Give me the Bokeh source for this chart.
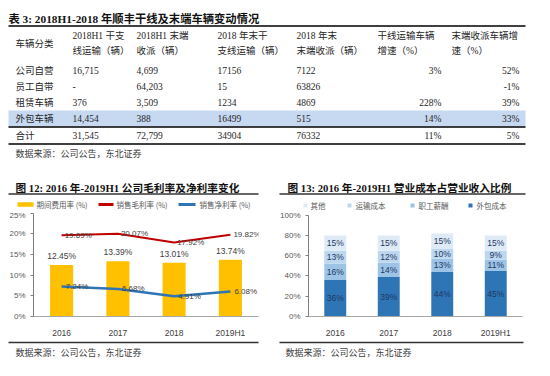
from bokeh.plotting import figure
from bokeh.models import (Range1d, FactorRange, FixedTicker, PrintfTickFormatter,
                          ColumnDataSource)
from bokeh.layouts import column, row
from bokeh.embed import file_html
from bokeh.resources import INLINE
from bokeh.core.properties import value

# ---------------- data ----------------
table_title = "表 3: 2018H1-2018 年顺丰干线及末端车辆变动情况"
header_line1 = ["车辆分类", "2018H1 干支", "2018H1 末端", "2018 年末干", "2018 年末", "干线运输车辆", "末端收派车辆增"]
header_line2 = ["", "线运输（辆）", "收派（辆）", "支线运输（辆）", "末端收派（辆）", "增速（%）", "速（%）"]
vehicle_types = ["公司自营", "员工自带", "租赁车辆", "外包车辆", "合计"]
h1_trunk = ["16,715", "-", "376", "14,454", "31,545"]
h1_terminal = ["4,699", "64,203", "3,509", "388", "72,799"]
ye_trunk = ["17156", "15", "1234", "16499", "34904"]
ye_terminal = ["7122", "63826", "4869", "515", "76332"]
trunk_growth = ["3%", "", "228%", "14%", "11%"]
terminal_growth = ["52%", "-1%", "39%", "33%", "5%"]
source_note = "数据来源：公司公告，东北证券"

title12 = "图 12: 2016 年-2019H1 公司毛利率及净利率变化"
years = ["2016", "2017", "2018", "2019H1"]
expense_ratio = [12.45, 13.39, 13.01, 13.74]
gross_margin = [19.69, 20.07, 17.92, 19.82]
net_margin = [7.24, 6.68, 4.91, 6.08]
legend12 = ["期间费用率 (%)", "销售毛利率 (%)", "销售净利率 (%)"]

title13 = "图 13: 2016 年-2019H1 营业成本占营业收入比例"
outsourcing = [36, 39, 44, 45]
staff = [16, 14, 13, 11]
transport = [13, 12, 10, 9]
other = [15, 15, 15, 15]
legend13 = ["其他", "运输成本", "职工薪酬", "外包成本"]

# ---------------- styles ----------------
SERIF = value("Liberation Serif, Noto Sans CJK SC")
SANS = value("Liberation Sans, Noto Sans CJK SC")
CJK = value("Noto Sans CJK SC")
TXT = "#262626"
C_BAR, C_GROSS, C_NET = "#FFC000", "#C00000", "#2E75B6"
C_OUT, C_STAFF, C_TRANS, C_OTHER = "#2E75B6", "#9DC3E6", "#BDD7EE", "#DEEBF7"

TOP_H = 210

# ---------------- top strip: table + chart titles + legends ----------------
top = figure(width=550, height=TOP_H, x_range=Range1d(0, 550), y_range=Range1d(TOP_H, 0),
             x_axis_location=None, y_axis_location=None, toolbar_location=None,
             output_backend="svg", min_border=0, outline_line_color=None)
top.grid.visible = False

top.text(x=[8], y=[18], text=[table_title], text_font=SERIF, text_font_style="bold",
         text_font_size="11.3px", text_baseline="middle", text_color="#111111")
top.quad(left=[8], right=[525], top=[110], bottom=[126], fill_color="#C6D9F1", line_color=None)
top.segment(x0=[8, 8, 8], y0=[25.5, 126.5, 143.5], x1=[525, 525, 525], y1=[25.5, 126.5, 143.5],
            line_color="black", line_width=1.4)

col_left = [15, 72, 136, 217, 296, 377, 451]
top.text(x=[col_left[0]], y=[43], text=[header_line1[0]], text_font=SERIF,
         text_font_size="9.5px", text_baseline="middle", text_color=TXT)
top.text(x=col_left[1:], y=[35] * 6, text=header_line1[1:], text_font=SERIF,
         text_font_size="9.5px", text_baseline="middle", text_color=TXT)
top.text(x=col_left[1:], y=[50] * 6, text=header_line2[1:], text_font=SERIF,
         text_font_size="9.5px", text_baseline="middle", text_color=TXT)

row_y = [70, 86, 102, 118, 135]
left_cols = [vehicle_types, h1_trunk, h1_terminal, ye_trunk, ye_terminal]
for ci, col in enumerate(left_cols):
    top.text(x=[col_left[ci]] * len(col), y=row_y, text=col, text_font=SERIF,
             text_font_size="9.5px", text_baseline="middle", text_color=TXT)
for xr, col in zip([441, 519], [trunk_growth, terminal_growth]):
    top.text(x=[xr] * len(col), y=row_y, text=col, text_font=SERIF, text_align="right",
             text_font_size="9.5px", text_baseline="middle", text_color=TXT)
top.text(x=[15], y=[153], text=[source_note], text_font=CJK, text_font_size="9px",
         text_baseline="middle", text_color="#404040")

top.text(x=[15, 287], y=[187, 187], text=[title12, title13], text_font=SERIF,
         text_font_style="bold", text_font_size="10.7px", text_baseline="middle",
         text_color="#111111")
top.segment(x0=[8, 279], y0=[193.5, 193.5], x1=[258, 525], y1=[193.5, 193.5],
            line_color="#333333", line_width=1.3)

# legend of chart 12 (drawn in the strip above the plot)
top.quad(left=[17], right=[33], top=[201.8], bottom=[206.2], fill_color=C_BAR, line_color=None)
top.segment(x0=[98, 178], y0=[204, 204], x1=[113, 195], y1=[204, 204],
            line_color=[C_GROSS, C_NET], line_width=3)
top.text(x=[36, 116, 199], y=[204, 204, 204], text=legend12, text_font=CJK,
         text_font_size="7.5px", text_baseline="middle", text_color="#595959")
# legend of chart 13
top.quad(left=[303, 347, 410, 468], right=[307, 351, 414, 472], top=[203] * 4, bottom=[207] * 4,
         fill_color=[C_OTHER, C_TRANS, C_STAFF, C_OUT], line_color=None)
top.text(x=[310, 355, 418, 476], y=[205] * 4, text=legend13, text_font=CJK,
         text_font_size="7.5px", text_baseline="middle", text_color="#595959")


def style_axes(p, ymax):
    p.grid.visible = False
    p.outline_line_color = None
    p.yaxis.bounds = (0, ymax)
    p.yaxis.axis_line_color = "#808080"
    p.yaxis.major_tick_line_color = "#808080"
    p.yaxis.major_tick_out = 3
    p.yaxis.major_tick_in = 0
    p.yaxis.minor_tick_line_color = None
    p.yaxis.major_label_standoff = 5
    p.yaxis.major_label_text_font = "Liberation Sans"
    p.yaxis.major_label_text_font_size = "8px"
    p.yaxis.major_label_text_color = "#595959"
    p.yaxis.formatter = PrintfTickFormatter(format="%d%%")
    p.xaxis.axis_line_color = "#A6A6A6"
    p.xaxis.major_tick_line_color = None
    p.xaxis.major_label_standoff = 5
    p.xaxis.major_label_text_font = "Liberation Sans"
    p.xaxis.major_label_text_font_size = "8.5px"
    p.xaxis.major_label_text_color = "#404040"


CH_H = 340 - TOP_H

# ---------------- chart 12 ----------------
p12 = figure(width=275, height=CH_H, x_range=FactorRange(*years), y_range=Range1d(0, 25.68),
             toolbar_location=None, output_backend="svg",
             min_border_left=33, min_border_right=17, min_border_top=0, min_border_bottom=16)
style_axes(p12, 25)
p12.yaxis.ticker = FixedTicker(ticks=[0, 5, 10, 15, 20, 25])

p12.vbar(x=years, top=expense_ratio, width=0.41, fill_color=C_BAR, line_color=None)
p12.line(x=years, y=gross_margin, line_color=C_GROSS, line_width=2)
p12.line(x=years, y=net_margin, line_color=C_NET, line_width=2.5)

p12.text(x=years, y=expense_ratio, text=[f"{v:.2f}%" for v in expense_ratio], y_offset=-4,
         text_align="center", text_baseline="bottom", text_font=SANS, text_font_size="8.5px",
         text_color="#404040")
p12.text(x=years, y=gross_margin, text=[f"{v:.2f}%" for v in gross_margin], x_offset=3,
         text_align="left", text_baseline="middle", text_font=SANS, text_font_size="8px",
         text_color="#404040")
p12.text(x=years, y=net_margin, text=[f"{v:.2f}%" for v in net_margin], x_offset=4,
         text_align="left", text_baseline="middle", text_font=SANS, text_font_size="8px",
         text_color="#404040")

# ---------------- chart 13 ----------------
p13 = figure(width=275, height=CH_H, x_range=FactorRange(*years), y_range=Range1d(0, 104.6),
             toolbar_location=None, output_backend="svg",
             min_border_left=33, min_border_right=28, min_border_top=0, min_border_bottom=16)
style_axes(p13, 100)
p13.yaxis.ticker = FixedTicker(ticks=[0, 20, 40, 60, 80, 100])

src13 = ColumnDataSource(dict(year=years, outsourcing=outsourcing, staff=staff,
                              transport=transport, other=other))
stack_keys = ["outsourcing", "staff", "transport", "other"]
p13.vbar_stack(stack_keys, x="year", width=0.41, fill_color=[C_OUT, C_STAFF, C_TRANS, C_OTHER],
               line_color=None, source=src13)

lx, ly, lt = [], [], []
base = [0] * len(years)
for series in [outsourcing, staff, transport, other]:
    for i, v in enumerate(series):
        lx.append(years[i])
        ly.append(base[i] + v / 2)
        lt.append(f"{v}%")
        base[i] += v
p13.text(x=lx, y=ly, text=lt, text_align="center", text_baseline="middle", text_font=SANS,
         text_font_size="8.5px", text_color="#1F3864")

# ---------------- bottom strip ----------------
bot = figure(width=550, height=36, x_range=Range1d(0, 550), y_range=Range1d(36, 0),
             x_axis_location=None, y_axis_location=None, toolbar_location=None,
             output_backend="svg", min_border=0, outline_line_color=None)
bot.grid.visible = False
bot.segment(x0=[8, 279], y0=[2, 2], x1=[258, 523], y1=[2, 2], line_color="#333333", line_width=1.3)
bot.text(x=[15, 285], y=[12, 12], text=[source_note, source_note], text_font=CJK,
         text_font_size="9px", text_baseline="middle", text_color="#404040")

layout = column(top, row(p12, p13), bot)
open("out.html", "w").write(file_html(layout, INLINE))
